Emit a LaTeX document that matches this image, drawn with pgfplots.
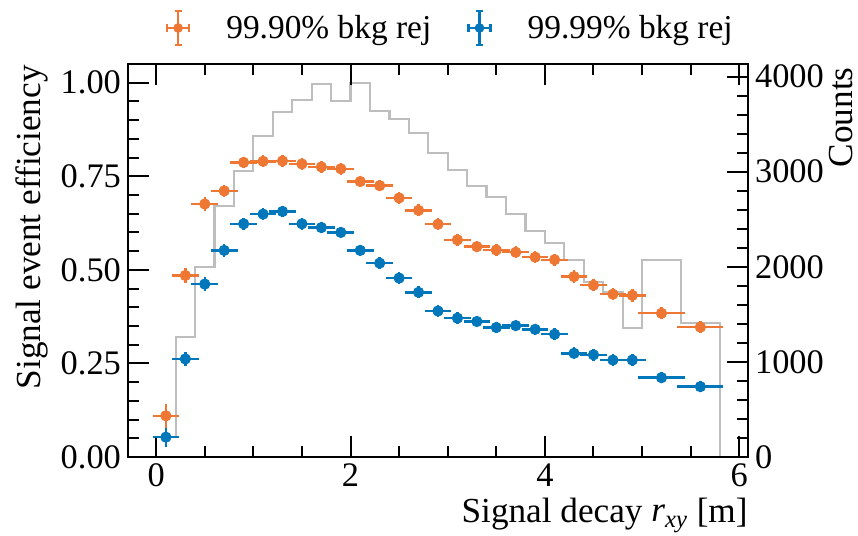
\documentclass[border=0pt]{standalone}
\usepackage{pgfplots}
\pgfplotsset{compat=1.18}
\usepackage{pgfplotstable}
\usepackage{fontspec}
\setmainfont{Liberation Serif}
\definecolor{tolorange}{HTML}{EE7733}
\definecolor{tolblue}{HTML}{0077BB}
\definecolor{histgray}{HTML}{BEBEBE}

\pgfplotstableread{
x xe y ye
0.1 0.1 0.110 0.022
0.3 0.1 0.485 0.010
0.5 0.1 0.676 0.008
0.7 0.1 0.711 0.007
0.9 0.1 0.787 0.006
1.1 0.1 0.790 0.006
1.3 0.1 0.791 0.006
1.5 0.1 0.783 0.006
1.7 0.1 0.775 0.006
1.9 0.1 0.770 0.006
2.1 0.1 0.736 0.006
2.3 0.1 0.725 0.006
2.5 0.1 0.692 0.006
2.7 0.1 0.659 0.006
2.9 0.1 0.622 0.006
3.1 0.1 0.580 0.006
3.3 0.1 0.562 0.006
3.5 0.1 0.553 0.006
3.7 0.1 0.547 0.006
3.9 0.1 0.534 0.006
4.1 0.1 0.527 0.006
4.3 0.1 0.482 0.007
4.5 0.1 0.459 0.007
4.7 0.1 0.435 0.007
4.9 0.1 0.432 0.008
5.2 0.2 0.384 0.006
5.6 0.2 0.347 0.007
}\effA

\pgfplotstableread{
x xe y ye
0.1 0.1 0.053 0.016
0.3 0.1 0.262 0.009
0.5 0.1 0.462 0.008
0.7 0.1 0.552 0.007
0.9 0.1 0.623 0.006
1.1 0.1 0.649 0.006
1.3 0.1 0.656 0.006
1.5 0.1 0.623 0.006
1.7 0.1 0.613 0.006
1.9 0.1 0.600 0.006
2.1 0.1 0.552 0.006
2.3 0.1 0.518 0.006
2.5 0.1 0.478 0.006
2.7 0.1 0.440 0.006
2.9 0.1 0.390 0.006
3.1 0.1 0.371 0.006
3.3 0.1 0.362 0.006
3.5 0.1 0.346 0.006
3.7 0.1 0.351 0.006
3.9 0.1 0.341 0.006
4.1 0.1 0.328 0.006
4.3 0.1 0.277 0.006
4.5 0.1 0.273 0.006
4.7 0.1 0.259 0.006
4.9 0.1 0.259 0.007
5.2 0.2 0.212 0.005
5.6 0.2 0.188 0.005
}\effB

\pgfplotstableread{
x c
0.0 0
0.0 213
0.2 1265
0.4 2001
0.6 2642
0.8 3011
1.0 3379
1.2 3625
1.4 3754
1.6 3919
1.8 3747
2.0 3936
2.2 3638
2.4 3551
2.6 3404
2.8 3200
3.0 3018
3.2 2850
3.4 2731
3.6 2555
3.8 2380
4.0 2253
4.2 2071
4.4 1837
4.6 1732
4.8 1353
5.0 2071
5.4 1406
5.8 1406
5.8 0
}\hist

\pgfplotsset{
  common/.style={
    width=310pt, height=196.5pt, scale only axis,
    xmin=-0.29, xmax=6.09,
    font=\fontsize{17.2}{20.6}\selectfont,
    tick label style={font=\fontsize{17.2}{20.6}\selectfont},
    label style={font=\fontsize{17.6}{21}\selectfont, inner sep=0pt},
    /pgf/number format/assume math mode=true,
    tick align=inside,
    major tick length=10.5pt, minor tick length=5.3pt,
    every tick/.style={black, line width=1pt},
    axis line style={line width=1.2pt},
  },
  errstyle/.style={
    only marks, mark=*, mark size=2.6pt, mark options={draw=#1, fill=#1},
    color=#1,
    error bars/.cd, x dir=both, x explicit, y dir=both, y explicit,
    error bar style={line width=1.2pt, color=#1},
    error mark options={line width=1.2pt, mark size=1.8pt, color=#1},
    /pgfplots/.cd,
  },
}

\begin{document}
\begin{tikzpicture}
% counts axis (behind)
\begin{axis}[common,
  axis x line=none,
  axis y line*=right,
  ymin=0, ymax=4133,
  ytick={0,1000,2000,3000,4000},
  minor y tick num=4,
  yticklabel style={/pgf/number format/1000 sep={}},
  ylabel={Counts},
  ylabel style={at={(rel axis cs:1,1)}, anchor=base east, xshift=-1.5pt, yshift=-52.5pt},
]
\addplot[const plot mark left, color=histgray, line width=1.1pt] table[x=x, y=c] {\hist};
\end{axis}
% efficiency axis
\begin{axis}[common,
  ymin=0, ymax=1.05,
  ytick={0,0.25,0.5,0.75,1.0},
  yticklabel style={/pgf/number format/.cd, fixed, fixed zerofill, precision=2},
  minor y tick num=4,
  ytick pos=left,
  xtick={0,2,4,6},
  minor x tick num=3,
  xtick pos=both,
  xlabel={Signal decay \textit{r}\textsubscript{\textit{xy}} [m]},
  xlabel style={at={(rel axis cs:1,0)}, anchor=base east, yshift=-32.5pt},
  ylabel={Signal event efficiency},
  ylabel style={at={(rel axis cs:0,1)}, anchor=base east, xshift=-0.5pt, yshift=43.5pt},
  legend columns=2,
  legend style={draw=none, fill=none, at={(axis description cs:0.5215,1.0916)}, anchor=center,
    column sep=16pt, font=\fontsize{16.7}{20}\selectfont},
]
\addlegendimage{legend image code/.code={
  \draw[tolorange, line width=1.2pt] (-5.5pt,0pt) -- (5.5pt,0pt) (0pt,-8.5pt) -- (0pt,8.5pt)
    (-5.5pt,-1.8pt) -- (-5.5pt,1.8pt) (5.5pt,-1.8pt) -- (5.5pt,1.8pt)
    (-1.8pt,-8.5pt) -- (1.8pt,-8.5pt) (-1.8pt,8.5pt) -- (1.8pt,8.5pt);
  \fill[tolorange] (0,0) circle (2.2pt);}}
\addlegendentry{99.90\% bkg rej}
\addlegendimage{legend image code/.code={
  \draw[tolblue, line width=1.2pt] (-5.5pt,0pt) -- (5.5pt,0pt) (0pt,-8.5pt) -- (0pt,8.5pt)
    (-5.5pt,-1.8pt) -- (-5.5pt,1.8pt) (5.5pt,-1.8pt) -- (5.5pt,1.8pt)
    (-1.8pt,-8.5pt) -- (1.8pt,-8.5pt) (-1.8pt,8.5pt) -- (1.8pt,8.5pt);
  \fill[tolblue] (0,0) circle (2.2pt);}}
\addlegendentry{99.99\% bkg rej}
\addplot[forget plot, errstyle=tolorange] table[x=x, y=y, x error=xe, y error=ye] {\effA};
\addplot[forget plot, errstyle=tolblue] table[x=x, y=y, x error=xe, y error=ye] {\effB};
\end{axis}
\pgfresetboundingbox
\path[use as bounding box] (-64pt,-39.5pt) rectangle (365pt,228.5pt);
\end{tikzpicture}
\end{document}
